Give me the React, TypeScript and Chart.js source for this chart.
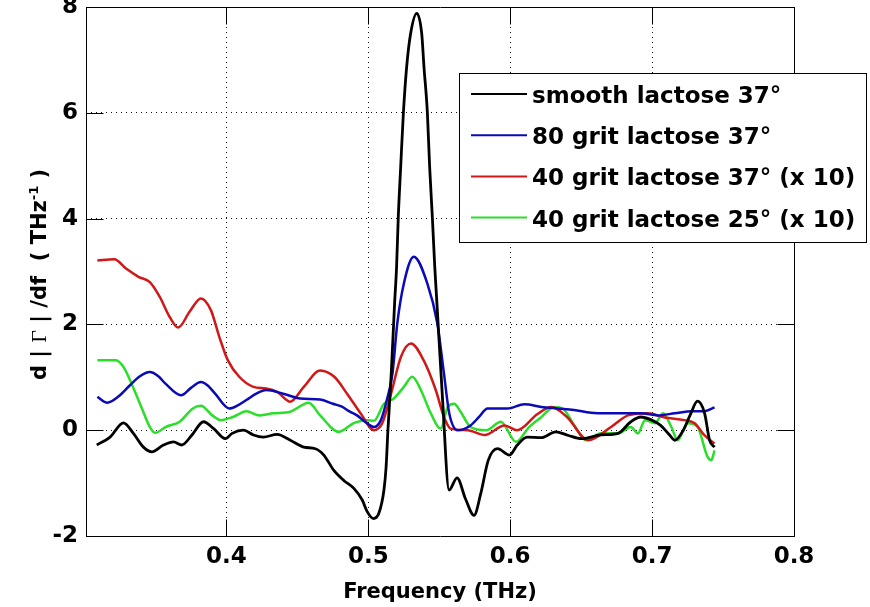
import React, { useEffect, useRef } from 'react';
import { Chart, registerables } from 'chart.js';

Chart.register(...registerables);

// ---------- data ----------
const xTickValues = [0.4, 0.5, 0.6, 0.7, 0.8];
const yTickValues = [-2, 0, 2, 4, 6, 8];

const seriesLabels = [
  'smooth lactose 37°',
  '80 grit lactose 37°',
  '40 grit lactose 37° (x 10)',
  '40 grit lactose 25° (x 10)',
];
const seriesColors = ['#000000', '#0a0ab8', '#d01818', '#2ade2a'];

const smoothFreq = [
  0.3086, 0.318, 0.3274, 0.3344, 0.3415, 0.3474, 0.3556, 0.3627, 0.3685, 0.3757,
  0.3838, 0.391, 0.3992, 0.404, 0.412, 0.419, 0.426, 0.4357, 0.445, 0.4545,
  0.4627, 0.4686, 0.4757, 0.4827, 0.4898, 0.4957, 0.4992, 0.5035, 0.5074, 0.511,
  0.5125, 0.5138, 0.5162, 0.5185, 0.5199, 0.5211, 0.5228, 0.5247, 0.527, 0.5298,
  0.5341, 0.5376, 0.5392, 0.5416, 0.5432, 0.5451, 0.5468, 0.5482, 0.5522, 0.5569,
  0.5625, 0.5685, 0.5745, 0.5792, 0.5845, 0.591, 0.5995, 0.605, 0.612, 0.622,
  0.632, 0.641, 0.65, 0.664, 0.676, 0.685, 0.692, 0.699, 0.706, 0.712,
  0.716, 0.722, 0.727, 0.732, 0.737, 0.7405, 0.744,
];
const smoothVals = [
  -0.28, -0.13, 0.14, -0.06, -0.32, -0.41, -0.28, -0.22, -0.28, -0.09,
  0.16, 0.03, -0.16, -0.06, 0.0, -0.09, -0.13, -0.08, -0.19, -0.32,
  -0.35, -0.47, -0.76, -0.95, -1.1, -1.32, -1.54, -1.67, -1.57, -1.13,
  -0.7, 0.0, 1.1, 2.4, 3.09, 4.03, 4.98, 6.0, 6.87, 7.5,
  7.88, 7.5, 6.87, 6.0, 4.98, 4.03, 3.09, 2.46, 0.63, -1.13,
  -0.9, -1.3, -1.61, -1.2, -0.57, -0.35, -0.47, -0.28, -0.13, -0.14,
  -0.03, -0.1, -0.16, -0.09, -0.06, 0.16, 0.25, 0.2, 0.09, -0.08,
  -0.19, 0.0, 0.3, 0.55, 0.32, -0.19, -0.32,
];

const grit80Freq = [
  0.309, 0.316, 0.324, 0.332, 0.339, 0.346, 0.352, 0.357, 0.368, 0.375,
  0.382, 0.387, 0.392, 0.402, 0.408, 0.414, 0.421, 0.428, 0.44, 0.452,
  0.466, 0.475, 0.481, 0.487, 0.492, 0.499, 0.504, 0.509, 0.513, 0.517,
  0.5204, 0.525, 0.532, 0.5416, 0.5486, 0.5533, 0.557, 0.563, 0.572, 0.578,
  0.584, 0.598, 0.61, 0.622, 0.633, 0.645, 0.657, 0.669, 0.68, 0.692,
  0.704, 0.716, 0.728, 0.737, 0.744,
];
const grit80Vals = [
  0.63, 0.52, 0.64, 0.85, 1.02, 1.1, 1.02, 0.88, 0.66, 0.8,
  0.91, 0.84, 0.69, 0.41, 0.47, 0.57, 0.69, 0.76, 0.69, 0.6,
  0.58, 0.5, 0.45, 0.35, 0.28, 0.13, 0.06, 0.2, 0.57, 1.07,
  2.02, 2.77, 3.28, 2.77, 2.02, 1.07, 0.32, 0.0, 0.09, 0.25,
  0.41, 0.41, 0.49, 0.44, 0.41, 0.38, 0.33, 0.32, 0.32, 0.32,
  0.28, 0.32, 0.36, 0.36, 0.43,
];

const grit40Freq = [
  0.309, 0.321, 0.329, 0.338, 0.346, 0.353, 0.36, 0.366, 0.374, 0.382,
  0.389, 0.395, 0.401, 0.409, 0.419, 0.428, 0.436, 0.445, 0.4545, 0.466,
  0.476, 0.485, 0.4945, 0.504, 0.5098, 0.516, 0.523, 0.53, 0.539, 0.5475,
  0.5533, 0.558, 0.57, 0.582, 0.596, 0.605, 0.619, 0.629, 0.64, 0.655,
  0.671, 0.683, 0.697, 0.709, 0.7228, 0.73, 0.737, 0.744,
];
const grit40Vals = [
  3.21, 3.23, 3.06, 2.9, 2.8, 2.52, 2.14, 1.94, 2.24, 2.49,
  2.27, 1.76, 1.32, 1.01, 0.82, 0.79, 0.72, 0.54, 0.82, 1.13,
  1.01, 0.69, 0.32, 0.0, 0.13, 0.69, 1.39, 1.64, 1.32, 0.76,
  0.25, 0.03, 0.0, -0.09, 0.09, 0.0, 0.3, 0.44, 0.25, -0.19,
  0.06, 0.28, 0.32, 0.24, 0.19, 0.13, -0.1, -0.25,
];

const grit40w25Freq = [
  0.309, 0.322, 0.328, 0.334, 0.34, 0.346, 0.35, 0.357, 0.367, 0.3763,
  0.382, 0.39, 0.396, 0.4046, 0.414, 0.4234, 0.433, 0.445, 0.458, 0.466,
  0.4792, 0.49, 0.499, 0.504, 0.511, 0.518, 0.525, 0.531, 0.537, 0.544,
  0.551, 0.556, 0.5604, 0.565, 0.572, 0.583, 0.5934, 0.604, 0.613, 0.622,
  0.631, 0.637, 0.645, 0.6534, 0.664, 0.676, 0.685, 0.69, 0.695, 0.702,
  0.7076, 0.7136, 0.718, 0.725, 0.732, 0.739, 0.7417, 0.744,
];
const grit40w25Vals = [
  1.32, 1.32, 1.17, 0.82, 0.44, 0.06, -0.05, 0.06, 0.16, 0.41,
  0.46, 0.28, 0.19, 0.25, 0.36, 0.28, 0.32, 0.35, 0.52, 0.28,
  -0.03, 0.14, 0.19, 0.18, 0.5, 0.6, 0.82, 1.01, 0.76, 0.32,
  0.03, 0.44, 0.5, 0.35, 0.06, 0.0, 0.16, -0.22, 0.05, 0.25,
  0.44, 0.41, 0.1, -0.19, -0.06, -0.06, 0.06, -0.06, 0.19, 0.13,
  0.32, 0.06, -0.19, 0.13, 0.06, -0.5, -0.57, -0.38,
];

const xMin = 0.301;
const xMax = 0.8;
const yMin = -2;
const yMax = 8;

// ---------- helpers ----------
const FONT = '"DejaVu Sans", "Liberation Sans", sans-serif';
const toPoints = (xs: number[], ys: number[]) => xs.map((x, i) => ({ x, y: ys[i] }));

const TICK_LEN = 17;

const framePlugin = {
  id: 'matlabFrame',
  afterDatasetsDraw(chart: any) {
    const { ctx, chartArea } = chart;
    const xs = chart.scales.x;
    const ys = chart.scales.y;
    const l = Math.round(chartArea.left) + 0.5;
    const r = Math.round(chartArea.right) + 0.5;
    const t = Math.round(chartArea.top) + 0.5;
    const b = Math.round(chartArea.bottom) + 0.5;
    ctx.save();
    ctx.strokeStyle = '#000';
    ctx.lineWidth = 1;
    ctx.setLineDash([]);
    ctx.beginPath();
    ctx.rect(l, t, r - l, b - t);
    ctx.stroke();
    ctx.beginPath();
    xTickValues.forEach((v) => {
      const px = Math.round(xs.getPixelForValue(v)) + 0.5;
      ctx.moveTo(px, b);
      ctx.lineTo(px, b - TICK_LEN);
      ctx.moveTo(px, t);
      ctx.lineTo(px, t + TICK_LEN);
    });
    yTickValues.forEach((v) => {
      const py = Math.round(ys.getPixelForValue(v)) + 0.5;
      ctx.moveTo(l, py);
      ctx.lineTo(l + TICK_LEN, py);
      ctx.moveTo(r, py);
      ctx.lineTo(r - TICK_LEN, py);
    });
    ctx.stroke();
    ctx.restore();
  },
};

const yTitlePieces = [
  { text: 'd | ', font: `bold 21px ${FONT}`, rise: 0 },
  { text: 'Γ', font: '22px "Liberation Serif", "DejaVu Serif", serif', rise: 0 },
  { text: ' | /df  ( THz', font: `bold 21px ${FONT}`, rise: 0 },
  { text: '-1', font: `bold 13px ${FONT}`, rise: 8 },
  { text: ' )', font: `bold 21px ${FONT}`, rise: 0 },
];

const annotationPlugin = {
  id: 'labelsAndLegend',
  afterDraw(chart: any) {
    const { ctx } = chart;
    ctx.save();
    // y-axis title (rotated, with serif Gamma and superscript)
    ctx.translate(46, 380);
    ctx.rotate(-Math.PI / 2);
    ctx.fillStyle = '#000';
    ctx.textBaseline = 'alphabetic';
    ctx.textAlign = 'left';
    let cx = 0;
    yTitlePieces.forEach((p) => {
      ctx.font = p.font;
      ctx.fillText(p.text, cx, -p.rise);
      cx += ctx.measureText(p.text).width;
    });
    ctx.restore();

    // legend
    const bx = 459.5;
    const by = 73.5;
    const bw = 407;
    const bh = 169;
    ctx.save();
    ctx.fillStyle = '#fff';
    ctx.fillRect(bx, by, bw, bh);
    ctx.strokeStyle = '#000';
    ctx.lineWidth = 1;
    ctx.strokeRect(bx, by, bw, bh);
    ctx.font = `bold 23px ${FONT}`;
    ctx.textBaseline = 'middle';
    ctx.textAlign = 'left';
    chart.data.datasets.forEach((ds: any, i: number) => {
      const cy = 97 + i * 41.2;
      ctx.strokeStyle = ds.borderColor;
      ctx.lineWidth = 2;
      ctx.beginPath();
      ctx.moveTo(471, cy - 3);
      ctx.lineTo(527, cy - 3);
      ctx.stroke();
      ctx.fillStyle = '#000';
      ctx.fillText(ds.label, 532, cy);
    });
    ctx.restore();
  },
};

export default function App() {
  const canvasRef = useRef<HTMLCanvasElement | null>(null);

  useEffect(() => {
    const canvas = canvasRef.current;
    if (!canvas) return;
    const seriesData = [
      toPoints(smoothFreq, smoothVals),
      toPoints(grit80Freq, grit80Vals),
      toPoints(grit40Freq, grit40Vals),
      toPoints(grit40w25Freq, grit40w25Vals),
    ];
    const chart = new Chart(canvas, {
      type: 'line',
      data: {
        datasets: seriesData.map((d, i) => ({
          label: seriesLabels[i],
          data: d,
          borderColor: seriesColors[i],
          backgroundColor: seriesColors[i],
          borderWidth: i === 0 ? 2.8 : 2.5,
          pointRadius: 0,
          fill: false,
          cubicInterpolationMode: 'monotone',
        })),
      },
      options: {
        responsive: false,
        maintainAspectRatio: false,
        animation: false,
        devicePixelRatio: 1,
        layout: { padding: { left: 0, top: 7, right: 76, bottom: 0 } },
        plugins: {
          legend: { display: false },
          tooltip: { enabled: false },
        },
        scales: {
          x: {
            type: 'linear',
            min: xMin,
            max: xMax,
            afterBuildTicks: (scale: any) => {
              scale.ticks = xTickValues.map((v) => ({ value: v }));
            },
            afterFit: (scale: any) => {
              scale.height = 71;
              scale.paddingLeft = 0;
              scale.paddingRight = 0;
              scale.paddingTop = 0;
              scale.paddingBottom = 0;
            },
            ticks: {
              autoSkip: false,
              maxRotation: 0,
              padding: 7,
              color: '#000',
              font: { family: FONT, size: 23, weight: 'bold' },
              callback: (v: any) => Number(v).toFixed(1),
            },
            grid: { color: '#111', lineWidth: 1, drawTicks: false },
            border: { display: false, dash: [1, 4] },
            title: {
              display: true,
              text: 'Frequency (THz)',
              color: '#000',
              font: { family: FONT, size: 21, weight: 'bold' },
              padding: { top: 0, bottom: 2 },
            },
          },
          y: {
            type: 'linear',
            min: yMin,
            max: yMax,
            afterBuildTicks: (scale: any) => {
              scale.ticks = yTickValues.map((v) => ({ value: v }));
            },
            afterFit: (scale: any) => {
              scale.width = 86;
              scale.paddingLeft = 0;
              scale.paddingRight = 0;
              scale.paddingTop = 0;
              scale.paddingBottom = 0;
            },
            ticks: {
              autoSkip: false,
              padding: 8,
              color: '#000',
              font: { family: FONT, size: 23, weight: 'bold' },
              callback: (v: any) => String(v),
            },
            grid: { color: '#111', lineWidth: 1, drawTicks: false },
            border: { display: false, dash: [1, 4] },
          },
        },
      },
      plugins: [framePlugin, annotationPlugin],
    } as any);
    return () => chart.destroy();
  }, []);

  return (
    <div style={{ position: 'absolute', left: 0, top: 0, width: 870, height: 607, background: '#fff' }}>
      <canvas ref={canvasRef} width={870} height={607} style={{ display: 'block' }} />
    </div>
  );
}
